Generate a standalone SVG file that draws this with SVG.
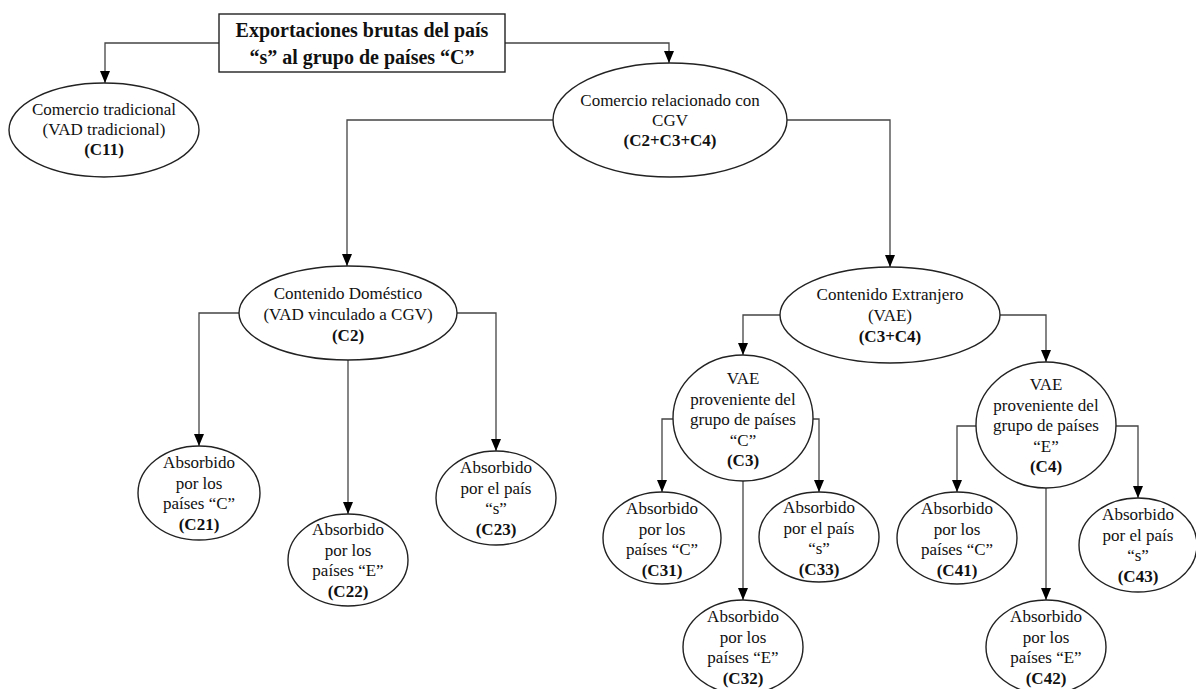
<svg xmlns="http://www.w3.org/2000/svg" width="1196" height="689" viewBox="0 0 1196 689">
<defs>
<style>
.n{fill:#fff;stroke:#222;stroke-width:1.4}
.c{fill:none;stroke:#444;stroke-width:1.3}
text{font-family:"Liberation Serif","Times New Roman",serif;font-size:17px;fill:#111;text-anchor:middle}
.b{font-weight:bold}
.t{font-weight:bold;font-size:20px}
</style>
<marker id="ah" viewBox="0 0 12 10" markerWidth="12" markerHeight="10" refX="12" refY="5" orient="auto" markerUnits="userSpaceOnUse">
<path d="M0,0 L12,5 L0,10 z" fill="#000"/>
</marker>
</defs>
<rect width="1196" height="689" fill="#fff"/>
<g id="connectors">
<path class="c" marker-end="url(#ah)" d="M219,43 H105 V83"/>
<path class="c" marker-end="url(#ah)" d="M505,43 H669 V63"/>
<path class="c" marker-end="url(#ah)" d="M553,120 H347 V266"/>
<path class="c" marker-end="url(#ah)" d="M787,120 H890 V267"/>
<path class="c" marker-end="url(#ah)" d="M239,313 H199 V446"/>
<path class="c" marker-end="url(#ah)" d="M348,360 V514"/>
<path class="c" marker-end="url(#ah)" d="M457,313 H496 V451"/>
<path class="c" marker-end="url(#ah)" d="M780,315 H743 V355"/>
<path class="c" marker-end="url(#ah)" d="M1000,315 H1046 V362"/>
<path class="c" marker-end="url(#ah)" d="M673,419 H662 V492"/>
<path class="c" marker-end="url(#ah)" d="M743,481 V600"/>
<path class="c" marker-end="url(#ah)" d="M813,419 H819 V492"/>
<path class="c" marker-end="url(#ah)" d="M976,426 H957 V492"/>
<path class="c" marker-end="url(#ah)" d="M1046,488 V600"/>
<path class="c" marker-end="url(#ah)" d="M1116,426 H1138 V498"/>
</g>
<g id="top">
<rect class="n" x="219" y="14" width="286" height="58"/>
<text class="t" x="362" y="37">Exportaciones brutas del país</text>
<text class="t" x="362" y="64">“s” al grupo de países “C”</text>
</g>
<g id="C11">
<ellipse class="n" cx="104" cy="130" rx="95" ry="47"/>
<text x="104" y="115">Comercio tradicional</text>
<text x="104" y="135">(VAD tradicional)</text>
<text class="b" x="104" y="155">(C11)</text>
</g>
<g id="CGV">
<ellipse class="n" cx="670" cy="120" rx="117" ry="57"/>
<text x="670" y="106">Comercio relacionado con</text>
<text x="670" y="126">CGV</text>
<text class="b" x="670" y="146">(C2+C3+C4)</text>
</g>
<g id="C2">
<ellipse class="n" cx="348" cy="313" rx="109" ry="47"/>
<text x="348" y="299">Contenido Doméstico</text>
<text x="348" y="320">(VAD vinculado a CGV)</text>
<text class="b" x="348" y="341">(C2)</text>
</g>
<g id="CE">
<ellipse class="n" cx="890" cy="315" rx="110" ry="48"/>
<text x="890" y="300">Contenido Extranjero</text>
<text x="890" y="321">(VAE)</text>
<text class="b" x="890" y="342">(C3+C4)</text>
</g>
<g id="C3">
<ellipse class="n" cx="743" cy="418" rx="70" ry="63"/>
<text x="743" y="384">VAE</text>
<text x="743" y="405">proveniente del</text>
<text x="743" y="425">grupo de países</text>
<text x="743" y="446">“C”</text>
<text class="b" x="743" y="466">(C3)</text>
</g>
<g id="C4">
<ellipse class="n" cx="1046" cy="425" rx="70" ry="63"/>
<text x="1046" y="390">VAE</text>
<text x="1046" y="411">proveniente del</text>
<text x="1046" y="431">grupo de países</text>
<text x="1046" y="452">“E”</text>
<text class="b" x="1046" y="472">(C4)</text>
</g>
<g id="C21">
<ellipse class="n" cx="199" cy="493" rx="61" ry="47"/>
<text x="199" y="468">Absorbido</text>
<text x="199" y="489">por los</text>
<text x="199" y="509">países “C”</text>
<text class="b" x="199" y="530">(C21)</text>
</g>
<g id="C22">
<ellipse class="n" cx="348" cy="560" rx="60" ry="46"/>
<text x="348" y="535">Absorbido</text>
<text x="348" y="556">por los</text>
<text x="348" y="576">países “E”</text>
<text class="b" x="348" y="597">(C22)</text>
</g>
<g id="C23">
<ellipse class="n" cx="496" cy="498" rx="60" ry="47"/>
<text x="496" y="473">Absorbido</text>
<text x="496" y="494">por el país</text>
<text x="496" y="514">“s”</text>
<text class="b" x="496" y="535">(C23)</text>
</g>
<g id="C31">
<ellipse class="n" cx="662" cy="538" rx="59" ry="46"/>
<text x="662" y="514">Absorbido</text>
<text x="662" y="535">por los</text>
<text x="662" y="555">países “C”</text>
<text class="b" x="662" y="576">(C31)</text>
</g>
<g id="C32">
<ellipse class="n" cx="743" cy="647" rx="60" ry="47"/>
<text x="743" y="622">Absorbido</text>
<text x="743" y="643">por los</text>
<text x="743" y="663">países “E”</text>
<text class="b" x="743" y="684">(C32)</text>
</g>
<g id="C33">
<ellipse class="n" cx="819" cy="537" rx="60" ry="45"/>
<text x="819" y="513">Absorbido</text>
<text x="819" y="534">por el país</text>
<text x="819" y="554">“s”</text>
<text class="b" x="819" y="575">(C33)</text>
</g>
<g id="C41">
<ellipse class="n" cx="957" cy="538" rx="60" ry="46"/>
<text x="957" y="514">Absorbido</text>
<text x="957" y="535">por los</text>
<text x="957" y="555">países “C”</text>
<text class="b" x="957" y="576">(C41)</text>
</g>
<g id="C42">
<ellipse class="n" cx="1046" cy="647" rx="60" ry="47"/>
<text x="1046" y="622">Absorbido</text>
<text x="1046" y="643">por los</text>
<text x="1046" y="663">países “E”</text>
<text class="b" x="1046" y="684">(C42)</text>
</g>
<g id="C43">
<ellipse class="n" cx="1138" cy="545" rx="59" ry="47"/>
<text x="1138" y="520">Absorbido</text>
<text x="1138" y="541">por el país</text>
<text x="1138" y="561">“s”</text>
<text class="b" x="1138" y="582">(C43)</text>
</g>
</svg>
